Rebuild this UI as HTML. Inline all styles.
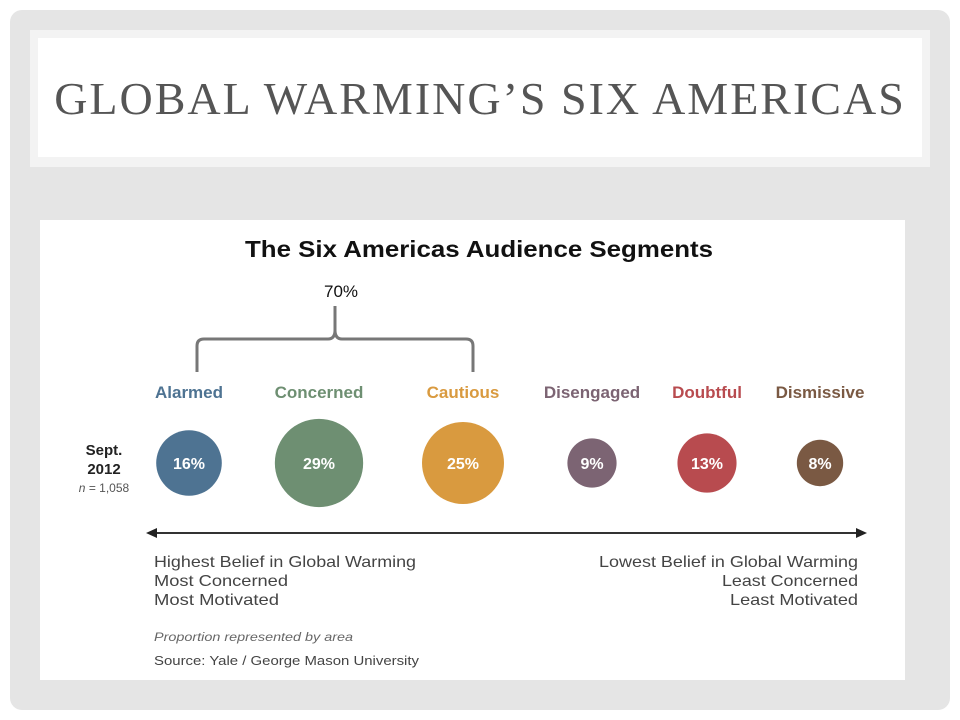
<!DOCTYPE html>
<html><head><meta charset="utf-8">
<style>
html,body{margin:0;padding:0;background:#fff;}
body{width:960px;height:720px;position:relative;overflow:hidden;font-family:"Liberation Sans",sans-serif;}
#slide{position:absolute;left:10px;top:10px;width:940px;height:700px;background:#e5e5e5;border-radius:12px;}
#title-frame{position:absolute;left:30px;top:30px;width:900px;height:137px;background:#f3f3f3;}
#title-box{position:absolute;left:38px;top:38px;width:884px;height:119px;background:#fff;}
#title{position:absolute;left:0;top:0;width:884px;height:119px;line-height:122px;text-align:center;margin:0;font-family:"Liberation Serif",serif;font-weight:normal;font-size:46px;color:#555;letter-spacing:2px;}
#chart{position:absolute;left:40px;top:220px;width:865px;height:460px;background:#fff;}
svg{position:absolute;left:0;top:0;}
</style></head><body>
<div id="slide"></div>
<div id="title-frame"></div>
<div id="title-box"><h1 id="title">GLOBAL WARMING’S SIX AMERICAS</h1></div>
<div id="chart"></div>
<svg id="svg" width="960" height="720">
<text x="245" y="257" textLength="468" lengthAdjust="spacingAndGlyphs" font-size="23" font-weight="bold" fill="#111">The Six Americas Audience Segments</text>
<text x="341" y="297" text-anchor="middle" font-size="17" fill="#111">70%</text>
<path d="M197,372 L197,346 Q197,339 204,339 L328,339 Q335,339 335,330 L335,306 M335,330 Q335,339 342,339 L466,339 Q473,339 473,346 L473,372" fill="none" stroke="#777" stroke-width="3"/>
<text x="104" y="455" text-anchor="middle" font-size="15" font-weight="bold" fill="#222">Sept.</text>
<text x="104" y="474" text-anchor="middle" font-size="15" font-weight="bold" fill="#222">2012</text>
<text x="104" y="492" text-anchor="middle" font-size="12" fill="#555"><tspan font-style="italic">n</tspan> = 1,058</text>
<line x1="152" y1="533" x2="860" y2="533" stroke="#333" stroke-width="2"/>
<polygon points="146,533 157,528 157,538" fill="#222"/>
<polygon points="867,533 856,528 856,538" fill="#222"/>
<g font-size="16" fill="#444">
<text x="154" y="567" textLength="262" lengthAdjust="spacingAndGlyphs">Highest Belief in Global Warming</text>
<text x="154" y="586" textLength="134" lengthAdjust="spacingAndGlyphs">Most Concerned</text>
<text x="154" y="605" textLength="125" lengthAdjust="spacingAndGlyphs">Most Motivated</text>
</g>
<g font-size="16" fill="#444">
<text x="599" y="567" textLength="259" lengthAdjust="spacingAndGlyphs">Lowest Belief in Global Warming</text>
<text x="722" y="586" textLength="136" lengthAdjust="spacingAndGlyphs">Least Concerned</text>
<text x="730" y="605" textLength="128" lengthAdjust="spacingAndGlyphs">Least Motivated</text>
</g>
<text x="154" y="641" font-size="12" font-style="italic" fill="#666" textLength="199" lengthAdjust="spacingAndGlyphs">Proportion represented by area</text>
<text x="154" y="665" font-size="13" fill="#444" textLength="265" lengthAdjust="spacingAndGlyphs">Source: Yale / George Mason University</text>
<g id="segments"></g>
</svg>
<script>
const categories = ["Alarmed","Concerned","Cautious","Disengaged","Doubtful","Dismissive"];
const shares = [16,29,25,9,13,8];
const colors = ["#4e7392","#6e8f72","#d99a3f","#7c6473","#b84b4f","#7a5943"];
const centersX = [189,319,463,592,707,820];
const svgNS="http://www.w3.org/2000/svg";
const g=document.getElementById('segments');
const cy=463, k=8.2;
function rScale(v){return k*Math.sqrt(v);}
categories.forEach((c,i)=>{
  const lab=document.createElementNS(svgNS,'text');
  
  
  lab.setAttribute('x',centersX[i]);lab.setAttribute('y',398);
  lab.setAttribute('text-anchor','middle');lab.setAttribute('font-size','17');
  lab.setAttribute('font-weight','bold');lab.setAttribute('fill',colors[i]);
  lab.textContent=c;g.appendChild(lab);
  const circ=document.createElementNS(svgNS,'circle');
  
  
  circ.setAttribute('cx',centersX[i]);circ.setAttribute('cy',cy);
  circ.setAttribute('r',rScale(shares[i]));circ.setAttribute('fill',colors[i]);
  g.appendChild(circ);
  const v=document.createElementNS(svgNS,'text');
  
  
  v.setAttribute('x',centersX[i]);v.setAttribute('y',cy+6);
  v.setAttribute('text-anchor','middle');v.setAttribute('font-size','16');
  v.setAttribute('font-weight','bold');v.setAttribute('fill','#fff');
  v.textContent=shares[i]+'%';g.appendChild(v);
});
</script>
</body></html>
